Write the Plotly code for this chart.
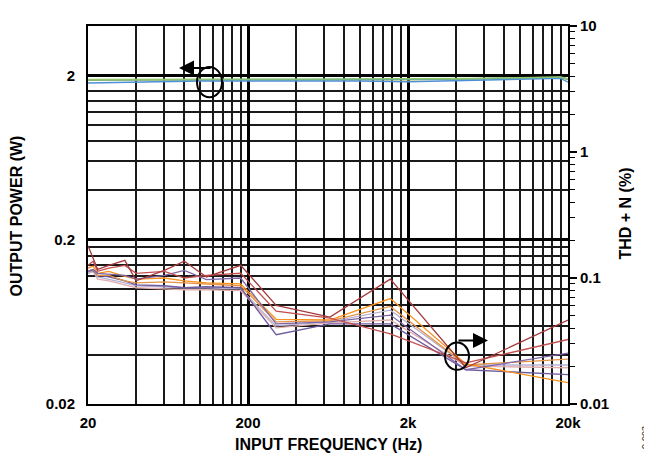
import plotly.graph_objects as go

# ---------------- data ----------------
freq_pow = [20, 50, 100, 200, 500, 1000, 2000, 5000, 10000, 15000, 18000, 20000]
pow_blue = [1.80, 1.83, 1.85, 1.85, 1.85, 1.85, 1.83, 1.86, 1.89, 1.91, 1.92, 1.82]
pow_teal = [1.88, 1.89, 1.89, 1.89, 1.89, 1.89, 1.89, 1.91, 1.93, 1.94, 1.95, 1.90]
pow_green = [1.89, 1.90, 1.90, 1.90, 1.90, 1.90, 1.90, 1.92, 1.94, 1.95, 1.96, 1.91]
pow_olive = [1.87, 1.88, 1.88, 1.88, 1.88, 1.88, 1.88, 1.90, 1.92, 1.93, 1.94, 1.88]

freq_thd = [20, 21.5, 23, 27, 34, 40, 60, 80, 110, 180, 300, 650, 1550, 4600, 20000]
thd_darkred = [0.180, 0.143, 0.117, 0.126, 0.138, 0.095, 0.115, 0.136, 0.102, 0.126, 0.0607, 0.049, 0.098, 0.0194, 0.0464]
thd_red = [0.126, 0.136, 0.113, 0.120, 0.126, 0.109, 0.113, 0.100, 0.105, 0.109, 0.0545, 0.048, 0.036, 0.0212, 0.0325]
thd_purple = [0.113, 0.117, 0.109, 0.107, 0.105, 0.098, 0.105, 0.115, 0.097, 0.100, 0.0432, 0.0448, 0.0508, 0.0187, 0.0253]
thd_orange = [0.120, 0.124, 0.109, 0.113, 0.103, 0.098, 0.100, 0.095, 0.0915, 0.090, 0.047, 0.0464, 0.0687, 0.0208, 0.0148]
thd_tan = [0.113, 0.117, 0.105, 0.105, 0.095, 0.0915, 0.093, 0.0915, 0.090, 0.0868, 0.0448, 0.0456, 0.0595, 0.0204, 0.0227]
thd_lavender = [0.109, 0.113, 0.102, 0.098, 0.0915, 0.0868, 0.0852, 0.0837, 0.0837, 0.082, 0.0417, 0.0448, 0.0555, 0.0204, 0.0204]
thd_pink = [0.109, 0.113, 0.098, 0.095, 0.0883, 0.0837, 0.082, 0.0807, 0.0807, 0.0793, 0.0402, 0.044, 0.0464, 0.020, 0.0194]
thd_purple2 = [0.113, 0.115, 0.105, 0.102, 0.095, 0.0883, 0.0868, 0.0837, 0.0852, 0.0837, 0.0355, 0.0432, 0.0432, 0.0187, 0.0171]

x_tickvals = [20, 200, 2000, 20000]
x_ticktext = ["20", "200", "2k", "20k"]
x_minor = [40, 60, 80, 100, 120, 140, 160, 180,
           400, 600, 800, 1000, 1200, 1400, 1600, 1800,
           4000, 6000, 8000, 10000, 12000, 14000, 16000, 18000]
yl_tickvals = [0.02, 0.2, 2]
yl_ticktext = ["0.02", "0.2", "2"]
yl_minor = [0.04, 0.06, 0.08, 0.1, 0.12, 0.14, 0.16, 0.18,
            0.4, 0.6, 0.8, 1.0, 1.2, 1.4, 1.6]
yr_tickvals = [0.01, 0.1, 1, 10]
yr_ticktext = ["0.01", "0.1", "1", "10"]
yr_minor = [m * d for d in (0.01, 0.1, 1) for m in range(2, 10)]

# ---------------- figure ----------------
OFF = 8                      # default page margin of the html body
W, H = 652 - OFF, 454 - OFF
X0, X1, Y0, Y1 = 88, 568, 17, 404   # plot area in window pixels
L, T = X0 - OFF, Y0 - OFF
R, B = W - (X1 - OFF), H - (Y1 - OFF)
PW, PH = X1 - X0, Y1 - Y0

def px(x):
    return (x - X0) / PW

def py(y):
    return (Y1 - y) / PH

fig = go.Figure()

pow_series = [
    (pow_olive, "#b8c45a"),
    (pow_blue, "#4f8fd6"),
    (pow_teal, "#4aa8a8"),
    (pow_green, "#93c46a"),
]
for vals, col in pow_series:
    fig.add_trace(go.Scatter(x=freq_pow, y=vals, mode="lines", yaxis="y",
                             line=dict(color=col, width=1.4), showlegend=False))

thd_series = [
    (thd_pink, "#e2aeae"),
    (thd_lavender, "#b9b1d3"),
    (thd_purple2, "#6d5b9e"),
    (thd_tan, "#e39448"),
    (thd_orange, "#f7921e"),
    (thd_purple, "#7d66a8"),
    (thd_red, "#c2504f"),
    (thd_darkred, "#a53a3c"),
]
for vals, col in thd_series:
    fig.add_trace(go.Scatter(x=freq_thd, y=vals, mode="lines", yaxis="y2",
                             line=dict(color=col, width=1.3), showlegend=False))

FAM = "Liberation Sans, Arial, sans-serif"
font_t = dict(family=FAM, size=15, color="black", weight="bold")
font_h = dict(family=FAM, size=16, color="black", weight="bold")

fig.update_layout(
    width=W, height=H,
    margin=dict(l=L, r=R, t=T, b=B),
    paper_bgcolor="white", plot_bgcolor="white",
    xaxis=dict(
        type="log", range=[1.30103, 4.30103],
        tickmode="array", tickvals=x_tickvals, ticktext=x_ticktext,
        tickfont=font_t, ticks="outside", ticklen=4, tickcolor="rgba(0,0,0,0)",
        showgrid=True, gridcolor="black", gridwidth=2.5,
        minor=dict(tickmode="array", tickvals=x_minor, showgrid=True,
                   gridcolor="#1a1a1a", gridwidth=1.6, ticks=""),
        showline=True, linecolor="black", linewidth=2, mirror=True,
        zeroline=False,
    ),
    yaxis=dict(
        type="log", range=[-1.69897, 0.60206],
        tickmode="array", tickvals=yl_tickvals, ticktext=yl_ticktext,
        tickfont=font_t, ticks="outside", ticklen=8, tickcolor="rgba(0,0,0,0)",
        showgrid=True, gridcolor="black", gridwidth=2.5,
        minor=dict(tickmode="array", tickvals=yl_minor, showgrid=True,
                   gridcolor="#1a1a1a", gridwidth=1.6, ticks=""),
        showline=True, linecolor="black", linewidth=2, mirror=True,
        zeroline=False,
    ),
    yaxis2=dict(
        type="log", range=[-2, 1], overlaying="y", side="right",
        tickmode="array", tickvals=yr_tickvals, ticktext=yr_ticktext,
        tickfont=font_t, ticks="outside", ticklen=8, tickwidth=1.5, tickcolor="black",
        minor=dict(tickmode="array", tickvals=yr_minor, ticks="outside",
                   ticklen=6, tickwidth=1.2, tickcolor="black", showgrid=False),
        showgrid=False, zeroline=False, showline=False,
    ),
)

fig.add_annotation(text="OUTPUT POWER (W)", xref="paper", yref="paper",
                   x=px(16), y=py(212), textangle=-90, showarrow=False,
                   font=font_h, xanchor="center", yanchor="middle")
fig.add_annotation(text="THD + N (%)", xref="paper", yref="paper",
                   x=px(626), y=py(209), textangle=-90, showarrow=False,
                   font=font_h, xanchor="center", yanchor="middle")
fig.add_annotation(text="INPUT FREQUENCY (Hz)", xref="paper", yref="paper",
                   x=px(328), y=py(445), showarrow=False,
                   font=font_h, xanchor="center", yanchor="middle")
fig.add_annotation(text="0-003", xref="paper", yref="paper",
                   x=px(645), y=py(425), textangle=-90, showarrow=False,
                   font=dict(family=FAM, size=9, color="#222"),
                   xanchor="center", yanchor="top")

# ellipses
fig.add_shape(type="circle", xref="paper", yref="paper",
              x0=px(197), x1=px(222), y0=py(90), y1=py(59),
              line=dict(color="black", width=2))
fig.add_shape(type="circle", xref="paper", yref="paper",
              x0=px(445), x1=px(469), y0=py(369), y1=py(341),
              line=dict(color="black", width=2))

# arrows
fig.add_annotation(text="", xref="paper", yref="paper", x=px(179), y=py(60),
                   ax=33, ay=0, showarrow=True, arrowhead=2, arrowsize=1.5,
                   arrowwidth=2, arrowcolor="black")
fig.add_annotation(text="", xref="paper", yref="paper", x=px(488), y=py(339),
                   ax=-31, ay=0, showarrow=True, arrowhead=2, arrowsize=1.5,
                   arrowwidth=2, arrowcolor="black")

fig.write_html("out.html")
